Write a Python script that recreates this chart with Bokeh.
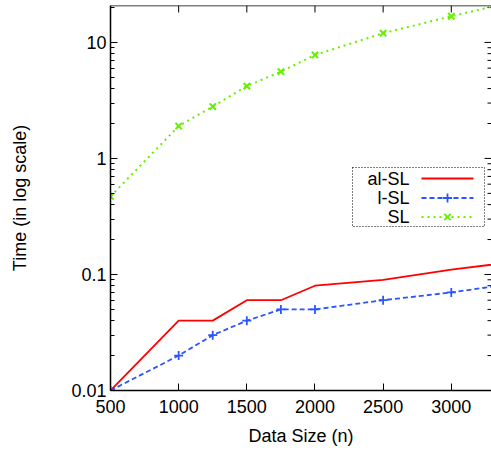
from bokeh.plotting import figure
from bokeh.models import (Range1d, FixedTicker, CustomJSTickFormatter, Label, Span)
from bokeh.embed import file_html
from bokeh.resources import INLINE
import math

# ---- data ----
sizes = [500, 1000, 1250, 1500, 1750, 2000, 2500, 3000, 3500]
al_sl = [0.01, 0.04, 0.04, 0.06, 0.06, 0.08, 0.09, 0.11, 0.13]
l_sl = [0.01, 0.02, 0.03, 0.04, 0.05, 0.05, 0.06, 0.07, 0.085]
sl = [0.47, 1.9, 2.8, 4.2, 5.6, 7.8, 12.0, 16.8, 23.0]
series_names = ["al-SL", "l-SL", "SL"]
x_ticks = [500, 1000, 1500, 2000, 2500, 3000]
y_ticks = [0.01, 0.1, 1, 10]

FONT = "Liberation Sans"
RED = "#ff0000"
BLUE = "#2a55ff"
GREEN = "#66f000"

W, H = 491, 455
B_LEFT, B_TOP, B_BOTTOM, B_RIGHT = 110, 5, 65, 0
X0, X1 = 500, 3295
Y0, Y1 = 0.01, 20.8

p = figure(width=W, height=H, output_backend="svg", toolbar_location=None,
           y_axis_type="log", x_range=Range1d(X0, X1), y_range=Range1d(Y0, Y1),
           min_border_left=B_LEFT, min_border_top=B_TOP,
           min_border_bottom=B_BOTTOM, min_border_right=B_RIGHT,
           background_fill_color="white", border_fill_color="white")
p.outline_line_color = None
p.grid.visible = False

# frame geometry helpers (for decoration only)
fw = W - B_LEFT - B_RIGHT
fh = H - B_TOP - B_BOTTOM
def dx(px):
    return X0 + (px - B_LEFT) / fw * (X1 - X0)
def dy(py):
    ly0, ly1 = math.log10(Y0), math.log10(Y1)
    return 10 ** (ly1 - (py - B_TOP) / fh * (ly1 - ly0))

minor = [m * 10 ** e for e in range(-2, 2) for m in range(2, 10)]

# bottom axis
xa = p.xaxis[0]
xa.ticker = FixedTicker(ticks=x_ticks)
xa.axis_label = "Data Size (n)"
# left axis
ya = p.yaxis[0]
ya.ticker = FixedTicker(ticks=y_ticks, minor_ticks=minor)
ya.formatter = CustomJSTickFormatter(code="return String(tick)")
ya.axis_label = "Time (in log scale)"

for ax in (xa, ya):
    ax.axis_line_color = "black"
    ax.axis_line_width = 1.5
    ax.major_tick_in = 7
    ax.major_tick_out = 0
    ax.minor_tick_in = 4
    ax.minor_tick_out = 0
    ax.major_tick_line_color = "black"
    ax.minor_tick_line_color = "black"
    ax.major_label_text_font = FONT
    ax.major_label_text_font_size = "18px"
    ax.major_label_text_color = "black"
    ax.axis_label_text_font = FONT
    ax.axis_label_text_font_size = "18px"
    ax.axis_label_text_font_style = "normal"
    ax.axis_label_text_color = "black"
xa.minor_tick_line_color = None
xa.major_label_standoff = 9
xa.axis_label_standoff = 10
ya.major_label_standoff = 4
ya.axis_label_standoff = 38

# top border line and inward mirror ticks (top and right)
p.add_layout(Span(location=Y1, dimension="width", line_color="black", line_width=1.5))
p.segment(x0=x_ticks[1:], y0=[Y1] * (len(x_ticks) - 1),
          x1=x_ticks[1:], y1=[dy(B_TOP + 7)] * (len(x_ticks) - 1),
          line_color="black", line_width=1)
p.segment(x0=[X1] * len(y_ticks), y0=y_ticks, x1=[dx(W - 7)] * len(y_ticks), y1=y_ticks,
          line_color="black", line_width=1)
p.segment(x0=[X1] * len(minor), y0=minor, x1=[dx(W - 4)] * len(minor), y1=minor,
          line_color="black", line_width=1)

# series
p.line(sizes, al_sl, line_color=RED, line_width=1.8)
p.line(sizes, l_sl, line_color=BLUE, line_width=1.8, line_dash="5 3")
p.scatter(sizes, l_sl, marker="cross", size=9, line_color=BLUE, line_width=1.8)
p.line(sizes, sl, line_color=GREEN, line_width=2, line_dash="2 4")
p.scatter(sizes, sl, marker="x", size=9, line_color=GREEN, line_width=2)

# legend (text left of samples, as in the original)
p.quad(left=[dx(352)], right=[dx(484)], top=[dy(167)], bottom=[dy(226)],
       fill_color="white", line_color="black", line_width=1, line_dash="1 2")
rows = [178, 197.5, 216.5]
styles = [(RED, None, None), (BLUE, "5 3", "cross"), (GREEN, "2 4", "x")]
for name, ry, (col, dash, mk) in zip(series_names, rows, styles):
    p.add_layout(Label(x=dx(409), y=dy(ry), text=name, text_align="right",
                       text_baseline="middle", text_font=FONT,
                       text_font_size="18px", text_color="black"))
    kw = dict(line_color=col, line_width=1.8)
    if dash:
        kw["line_dash"] = dash
    p.line([dx(421), dx(473)], [dy(ry), dy(ry)], **kw)
    if mk:
        p.scatter([dx(447)], [dy(ry)], marker=mk, size=9, line_color=col, line_width=1.8)

open("out.html", "w").write(file_html(p, INLINE))
